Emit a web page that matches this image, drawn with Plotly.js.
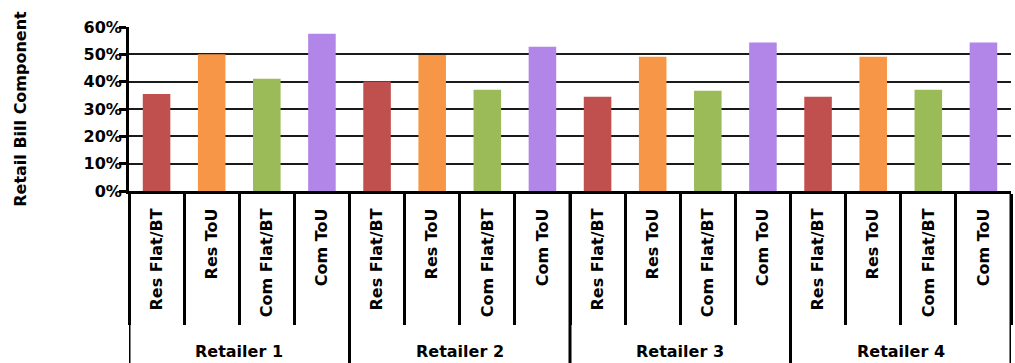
<!DOCTYPE html>
<html>
<head>
<meta charset="utf-8">
<script src="https://cdn.plot.ly/plotly-3.0.1.min.js"></script>
<style>html,body{margin:0;padding:0;background:#fff;}#chart{width:1015px;height:363px;}</style>
</head>
<body>
<div id="chart"></div>
<script>
var retailers = ['Retailer 1', 'Retailer 2', 'Retailer 3', 'Retailer 4'];
var tariffs = ['Res Flat/BT', 'Res ToU', 'Com Flat/BT', 'Com ToU'];
var retailer1 = [0.355, 0.500, 0.411, 0.575];
var retailer2 = [0.401, 0.498, 0.370, 0.528];
var retailer3 = [0.345, 0.491, 0.367, 0.543];
var retailer4 = [0.345, 0.491, 0.370, 0.543];
var tariffColors = ['#C0504D', '#F79646', '#9BBB59', '#B285E8'];

var allValues = [retailer1, retailer2, retailer3, retailer4];
var nT = tariffs.length, nR = retailers.length, nAll = nT * nR;
var xPos = [], inner = [], yv = [], cols = [];
retailers.forEach(function (r, i) {
  tariffs.forEach(function (t, j) {
    xPos.push(i * nT + j); inner.push(t); yv.push(allValues[i][j]); cols.push(tariffColors[j]);
  });
});
var catBounds = [];
for (var k = 0; k <= nAll; k++) catBounds.push(k - 0.5);
var groupCenters = retailers.map(function (r, i) { return i * nT + (nT - 1) / 2; });
var groupBounds = [];
for (var g = 0; g <= nR; g++) groupBounds.push(g * nT - 0.5);
var xRange = [-0.5, nAll - 0.5];

var fontFam = '"DejaVu Sans", Verdana, sans-serif';
var f16 = {family: fontFam, size: 16, weight: 'bold', color: '#000'};

var W = 1015, H = 363, M = {l: 129, r: 4, t: 27, b: 172};
var plotH = H - M.t - M.b;
function pixToPaperY(px) { return (H - M.b - px) / plotH; }

var trace = {
  type: 'bar',
  x: xPos,
  y: yv,
  text: inner,
  marker: {color: cols, line: {width: 0}},
  hoverinfo: 'text+y',
  textposition: 'none'
};

var shapes = groupBounds.map(function (xb) {
  return {type: 'line', xref: 'x', yref: 'paper', x0: xb, x1: xb, y0: 0, y1: pixToPaperY(H + 2),
          line: {color: '#000', width: 3}, layer: 'above'};
});
var annotations = retailers.map(function (r, i) {
  return {text: r, xref: 'x', yref: 'paper', x: groupCenters[i], y: pixToPaperY(351),
          xanchor: 'center', yanchor: 'middle', showarrow: false, font: f16};
});

var layout = {
  width: W, height: H,
  margin: M,
  paper_bgcolor: '#fff', plot_bgcolor: '#fff',
  bargap: 0.5,
  showlegend: false,
  font: {family: fontFam, color: '#000', size: 16, weight: 'bold'},
  yaxis: {
    range: [0, 0.6], dtick: 0.1, tickformat: '.0%',
    showgrid: true, gridcolor: '#1a1a1a', gridwidth: 2,
    showline: true, linecolor: '#000', linewidth: 3,
    ticks: 'outside', ticklen: 7, tickwidth: 3, tickcolor: '#000',
    ticklabelstandoff: -6,
    tickfont: f16,
    zeroline: false,
    title: {text: 'Retail Bill Component', font: f16, standoff: 53}
  },
  xaxis: {
    type: 'linear', range: xRange,
    showline: true, linecolor: '#000', linewidth: 3,
    tickmode: 'array', tickvals: xPos, ticktext: inner,
    ticks: '', tickangle: -90,
    ticklabelstandoff: 8,
    tickfont: f16,
    minor: {tickmode: 'array', tickvals: catBounds, ticks: 'outside', ticklen: 131, tickwidth: 3, tickcolor: '#000', showgrid: false},
    showgrid: false, zeroline: false
  },
  shapes: shapes,
  annotations: annotations
};

Plotly.newPlot('chart', [trace], layout, {displayModeBar: false, staticPlot: true});
</script>
</body>
</html>
